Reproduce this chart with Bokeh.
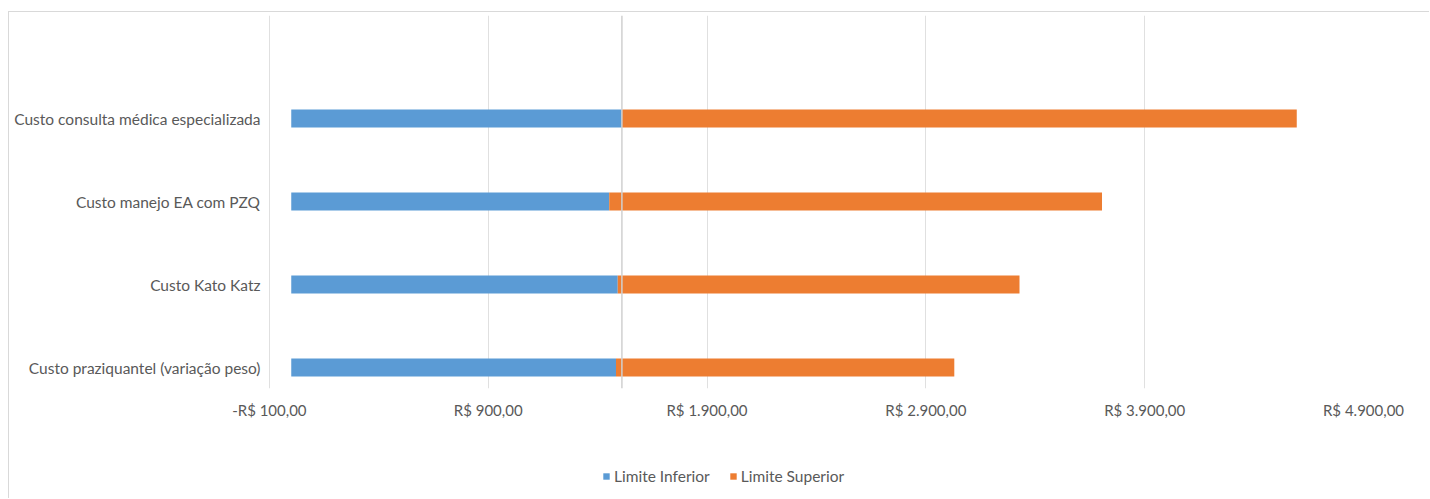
from bokeh.plotting import figure
from bokeh.layouts import column
from bokeh.models import Range1d, FixedTicker, Span, Legend, LegendItem
from bokeh.embed import file_html
from bokeh.resources import INLINE

# ---- data ----
categories = [
    "Custo praziquantel (variação peso)",
    "Custo Kato Katz",
    "Custo manejo EA com PZQ",
    "Custo consulta médica especializada",
]
limite_inferior = [1484, 1492, 1453, 1511]
limite_superior = [3030, 3328, 3705, 4595]
base_value = 1511
x_ticks = [-100, 900, 1900, 2900, 3900, 4900]
x_tick_labels = ["-R$ 100,00", "R$ 900,00", "R$ 1.900,00", "R$ 2.900,00",
                 "R$ 3.900,00", "R$ 4.900,00"]

ypos = list(range(len(categories)))
zeros = [0] * len(categories)

BLUE = "#5B9BD5"
ORANGE = "#ED7D31"
TEXT = "#595959"
FONT = "Lato"
BORDER = "1px solid #d9d9d9"

p = figure(width=1421, height=428, output_backend="svg", toolbar_location=None,
           x_range=Range1d(-104, 4900), y_range=Range1d(-0.253, 4.241),
           min_border_left=259, min_border_right=67, min_border_top=3,
           min_border_bottom=52)
p.margin = (11, 0, 0, 8)
p.styles = {"border-top": BORDER, "border-left": BORDER}
p.outline_line_color = None
p.background_fill_color = "white"
p.border_fill_color = "white"

r_inf = p.hbar(y=ypos, left=zeros, right=limite_inferior, height=0.217,
               fill_color=BLUE, line_color=None)
r_sup = p.hbar(y=ypos, left=limite_inferior, right=limite_superior, height=0.217,
               fill_color=ORANGE, line_color=None)

p.add_layout(Span(location=base_value, dimension="height",
                  line_color="#d0d0d0", line_width=1.5), "center")

# x axis
p.xaxis.ticker = FixedTicker(ticks=x_ticks)
p.xaxis.major_label_overrides = {t: l for t, l in zip(x_ticks, x_tick_labels)}
p.xaxis.axis_line_color = None
p.xaxis.major_tick_line_color = None
p.xaxis.minor_tick_line_color = None
p.xaxis.major_label_text_font = FONT
p.xaxis.major_label_text_font_size = "15px"
p.xaxis.major_label_text_color = TEXT
p.xaxis.major_label_standoff = 6

# y axis
p.yaxis.ticker = FixedTicker(ticks=ypos)
p.yaxis.major_label_overrides = {i: c for i, c in zip(ypos, categories)}
p.yaxis.axis_line_color = None
p.yaxis.major_tick_line_color = None
p.yaxis.minor_tick_line_color = None
p.yaxis.major_label_text_font = FONT
p.yaxis.major_label_text_font_size = "15.5px"
p.yaxis.major_label_text_color = TEXT
p.yaxis.major_label_standoff = 2

p.xgrid.ticker = FixedTicker(ticks=x_ticks)
p.xgrid.grid_line_color = "#e0e0e0"
p.ygrid.grid_line_color = None

# legend strip (same series, drawn outside its visible range; only the legend shows)
lf = figure(width=1421, height=59, output_backend="svg", toolbar_location=None,
            x_range=Range1d(0, 1), y_range=Range1d(100, 101),
            min_border=0, x_axis_type=None, y_axis_type=None)
lf.margin = (0, 0, 0, 8)
lf.styles = {"border-left": BORDER}
lf.outline_line_color = None
lf.grid.visible = False
l_inf = lf.hbar(y=ypos, left=zeros, right=limite_inferior, height=0.217,
                fill_color=BLUE, line_color=None)
l_sup = lf.hbar(y=ypos, left=limite_inferior, right=limite_superior, height=0.217,
                fill_color=ORANGE, line_color=None)

legend = Legend(items=[LegendItem(label="Limite Inferior", renderers=[l_inf]),
                       LegendItem(label="Limite Superior", renderers=[l_sup])],
                orientation="horizontal", location=(334, 13),
                glyph_width=8, glyph_height=8, label_standoff=4, spacing=19,
                padding=0, margin=0, border_line_alpha=0, background_fill_alpha=0,
                label_text_font=FONT, label_text_font_size="15.5px",
                label_text_color=TEXT, label_height=16)
lf.add_layout(legend, "center")

layout = column(p, lf, spacing=0)
open("out.html", "w").write(file_html(layout, INLINE))
